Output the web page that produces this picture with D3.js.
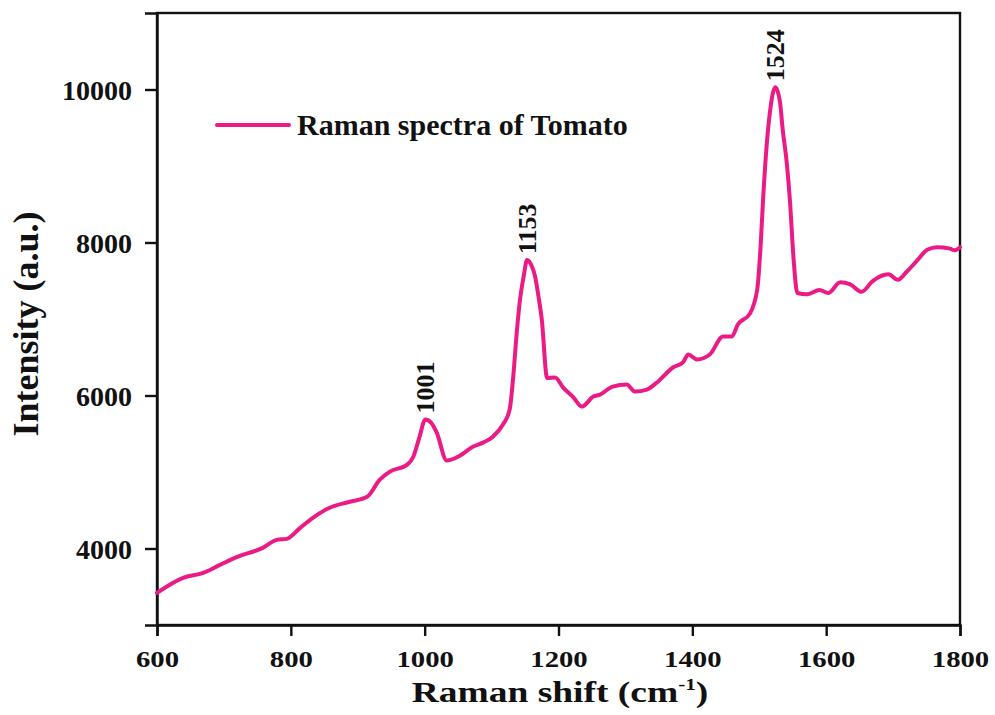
<!DOCTYPE html>
<html>
<head>
<meta charset="utf-8">
<script src="https://cdn.jsdelivr.net/npm/d3@7"></script>
<style>
  html, body { margin: 0; padding: 0; background: #fff; }
  svg { display: block; }
  text { font-family: "Liberation Serif", "Times New Roman", serif; font-weight: bold; fill: #111; }
</style>
</head>
<body>
<svg id="chart" width="995" height="715"></svg>
<script>
// Raman shift (cm-1) and measured intensity (a.u.)
const ramanShift = [600, 639, 669, 694, 720, 758, 779, 794, 814, 833, 858, 888, 914, 933, 948, 974, 983, 992,
  1001, 1010, 1018, 1033, 1053, 1072, 1087, 1102, 1117, 1127, 1132, 1138, 1142, 1148, 1153, 1160, 1165, 1170, 1175,
  1183, 1195, 1207, 1222, 1235, 1252, 1262, 1281, 1302, 1314, 1332, 1347, 1371, 1386, 1394, 1407, 1426, 1446,
  1459, 1468, 1486, 1497, 1502, 1506, 1511, 1516, 1524, 1531, 1535, 1541, 1546, 1551, 1557, 1571, 1590, 1603,
  1621, 1636, 1653, 1669, 1693, 1707, 1720, 1736, 1751, 1766, 1785, 1792, 1800];
const intensity = [3420, 3616, 3681, 3786, 3890, 4008, 4113, 4126, 4270, 4401, 4532, 4611, 4676, 4899, 5004, 5096, 5200, 5450,
  5685, 5640, 5515, 5150, 5215, 5331, 5384, 5462, 5620, 5816, 6209, 6864, 7217, 7561, 7770, 7692, 7558, 7300, 6995,
  6230, 6235, 6104, 5980, 5855, 5986, 6012, 6117, 6143, 6052, 6078, 6170, 6366, 6432, 6536, 6471, 6536, 6772,
  6772, 6929, 7070, 7388, 7950, 8606, 9260, 9706, 10030, 9837, 9480, 9051, 8530, 7820, 7340, 7322, 7380, 7340,
  7479, 7453, 7355, 7492, 7584, 7512, 7615, 7765, 7905, 7938, 7920, 7898, 7938];

// Labelled band positions
const peakLabels = [1001, 1153, 1524];

const xTicks = [600, 800, 1000, 1200, 1400, 1600, 1800];
const yTicks = [4000, 6000, 8000, 10000];
const seriesName = "Raman spectra of Tomato";
const lineColor = "#ec1a84";

const svg = d3.select("#chart");
const margin = { left: 157, right: 35, top: 13, bottom: 90 };
const W = 995, H = 715;

const x = d3.scaleLinear().domain([600, 1800]).range([margin.left, W - margin.right]);
const y = d3.scaleLinear().domain([3000, 11000]).range([H - margin.bottom, margin.top]);

const data = ramanShift.map((s, i) => ({ s, v: intensity[i] }));

// Frame
svg.append("rect")
  .attr("x", x(600)).attr("y", y(11000))
  .attr("width", x(1800) - x(600)).attr("height", y(3000) - y(11000))
  .attr("fill", "none").attr("stroke", "#111").attr("stroke-width", 2.4);

// Axes
const xAxis = svg.append("g")
  .attr("transform", `translate(0,${y(3000)})`)
  .call(d3.axisBottom(x).tickValues(xTicks).tickSize(11).tickPadding(15).tickFormat(d3.format("d")));
const yAxis = svg.append("g")
  .attr("transform", `translate(${x(600)},0)`)
  .call(d3.axisLeft(y).tickValues(yTicks).tickSize(12).tickPadding(13).tickFormat(d3.format("d")));

[xAxis, yAxis].forEach(g => {
  g.select(".domain").attr("stroke", "#111").attr("stroke-width", 2.4);
  g.selectAll(".tick line").attr("stroke", "#111").attr("stroke-width", 2.4);
  g.selectAll(".tick text")
    .attr("font-family", "Liberation Serif, Times New Roman, serif")
    .attr("font-weight", "bold").attr("fill", "#111");
});
// Bottom tick labels use a wide, short face
xAxis.selectAll(".tick text").attr("font-size", 23).attr("transform", "scale(1.25,1)");
yAxis.selectAll(".tick text").attr("font-size", 28).attr("dy", "0.35em");

// Spectrum
const line = d3.line().x(d => x(d.s)).y(d => y(d.v)).curve(d3.curveMonotoneX);
svg.append("path").datum(data)
  .attr("d", line)
  .attr("fill", "none")
  .attr("stroke", lineColor)
  .attr("stroke-width", 4)
  .attr("stroke-linejoin", "round")
  .attr("stroke-linecap", "round");

// Band labels above each peak
peakLabels.forEach(p => {
  const i = ramanShift.indexOf(p);
  const px = x(p), py = y(intensity[i]) - 6;
  svg.append("text")
    .attr("transform", `translate(${px + 9},${py}) rotate(-90)`)
    .attr("text-anchor", "start")
    .attr("font-size", 26)
    .text(p);
});

// Legend
svg.append("line")
  .attr("x1", 217).attr("x2", 289).attr("y1", 125).attr("y2", 125)
  .attr("stroke", lineColor).attr("stroke-width", 4).attr("stroke-linecap", "round");
svg.append("text").attr("x", 297).attr("y", 135).attr("font-size", 30).text(seriesName);

// Axis titles
const xt = svg.append("text")
  .attr("transform", "translate(560,702) scale(1.25,1)")
  .attr("text-anchor", "middle").attr("font-size", 30);
xt.append("tspan").text("Raman shift (cm");
xt.append("tspan").attr("font-size", 17).attr("dy", -12).text("-1");
xt.append("tspan").attr("dy", 12).text(")");

svg.append("text")
  .attr("transform", `translate(38,324) rotate(-90)`)
  .attr("text-anchor", "middle").attr("font-size", 36)
  .text("Intensity (a.u.)");
</script>
</body>
</html>
